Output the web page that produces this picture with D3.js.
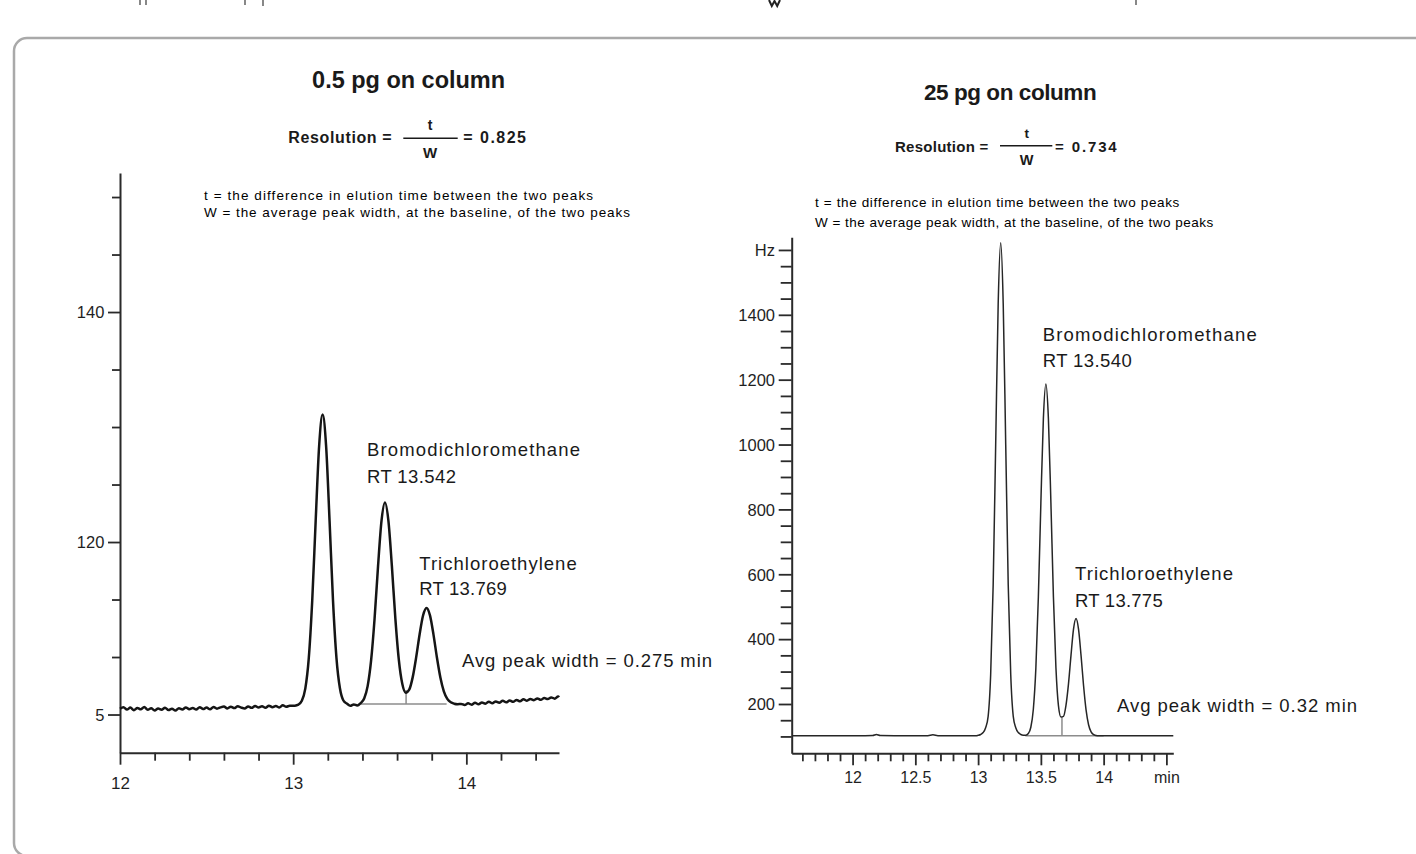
<!DOCTYPE html>
<html>
<head>
<meta charset="utf-8">
<script src="https://cdn.jsdelivr.net/npm/d3@7"></script>
<style>
  html, body { margin: 0; padding: 0; background: #fff; }
  svg { display: block; }
</style>
</head>
<body>
<script>
// ---------------- DATA ----------------
// Left chromatogram: 0.5 pg on column (time in min, signal)
const leftTime = [
  12.00,12.02,12.04,12.06,12.08,12.10,12.12,12.14,12.16,12.18,
  12.20,12.22,12.24,12.26,12.28,12.30,12.32,12.34,12.36,12.38,
  12.40,12.42,12.44,12.46,12.48,12.50,12.52,12.54,12.56,12.58,
  12.60,12.62,12.64,12.66,12.68,12.70,12.72,12.74,12.76,12.78,
  12.80,12.82,12.84,12.86,12.88,12.90,12.92,12.94,12.96,12.98,
  13.01,13.03,13.05,13.07,13.09,13.11,13.13,13.15,13.17,13.19,
  13.21,13.23,13.25,13.27,13.29,13.31,13.33,13.35,13.37,13.39,
  13.41,13.43,13.45,13.47,13.49,13.51,13.53,13.55,13.57,13.59,
  13.61,13.63,13.65,13.67,13.69,13.71,13.73,13.75,13.77,13.79,
  13.81,13.83,13.85,13.87,13.89,13.91,13.93,13.95,
  13.97,13.99,14.01,14.03,14.05,14.07,14.09,14.11,14.13,14.15,
  14.17,14.19,14.21,14.23,14.25,14.27,14.29,14.31,14.33,14.35,
  14.37,14.39,14.41,14.43,14.45,14.47,14.49,14.51,14.53,14.535
];
const leftSignal = [
  105.50,105.64,105.43,105.60,105.38,105.57,105.45,105.65,105.42,105.54,
  105.36,105.52,105.41,105.59,105.39,105.51,105.34,105.54,105.43,105.62,
  105.46,105.57,105.44,105.64,105.48,105.60,105.45,105.66,105.51,105.62,
  105.70,105.53,105.68,105.56,105.72,105.60,105.53,105.70,105.58,105.74,
  105.61,105.72,105.59,105.77,105.64,105.74,105.62,105.80,105.68,105.76,
  105.77,105.86,106.19,107.25,109.88,114.89,121.87,128.37,131.08,128.38,
  121.88,114.90,109.91,107.28,106.22,105.95,105.76,105.88,105.78,106.00,
  106.40,107.47,109.70,113.33,117.88,121.83,123.43,121.83,117.90,113.36,
  109.77,107.67,106.90,107.16,108.23,109.95,111.96,113.61,114.27,113.62,
  111.97,109.96,108.22,107.02,106.36,106.06,105.94,105.90,
  105.92,105.83,105.97,105.86,106.02,105.90,106.04,105.94,106.12,105.98,
  106.14,106.03,106.20,106.06,106.22,106.10,106.27,106.15,106.32,106.20,
  106.35,106.25,106.40,106.28,106.44,106.34,106.49,106.38,106.57,106.50
];
// Right chromatogram: 25 pg on column (time in min, Hz)
const rightTime = [
  11.52,11.70,11.90,12.10,12.16,12.19,12.22,12.40,12.60,12.64,12.68,12.85,12.98,
  13.00,13.02,13.04,13.06,13.08,13.10,13.12,13.14,13.16,13.18,
  13.20,13.22,13.24,13.26,13.28,13.30,13.32,13.34,13.36,13.38,
  13.40,13.42,13.44,13.46,13.48,13.50,13.52,13.54,13.56,13.58,
  13.60,13.62,13.64,13.66,13.68,13.70,13.72,13.74,13.76,13.78,
  13.80,13.82,13.84,13.86,13.88,13.90,13.92,13.94,13.96,13.98,
  14.00,14.20,14.40,14.555
];
const rightSignal = [
  102,102,102.3,102,102.5,106,102.5,102,102.3,105,102.3,102,102,
  103.5,106,112,127,162,290,567,1000,1435,1622,
  1435,1000,567,290,162,127,112,106,104,104,
  108.9,128.3,184,309.8,530.1,819.7,1080.5,1187,1080.5,819.7,
  530.3,312,195,160,162,196,262,350,431,464,
  431,350,257,182,136,114,105.5,103,102.2,102,
  102,102,102,102
];

// Baseline construction (valley-to-valley line and drop line)
const leftBaseSpan = [13.39, 13.886];
const leftBaseLevel = 105.91;
const leftDrop = [13.652, 107.13];
const rightBaseSpan = [13.376, 14.0];
const rightBaseLevel = 102;
const rightDrop = [13.668, 160];

// Tick values & labels
const leftXTicks = [12, 12.2, 12.4, 12.6, 12.8, 13, 13.2, 13.4, 13.6, 13.8, 14, 14.2, 14.4];
const leftXLabels = ["12", "", "", "", "", "13", "", "", "", "", "14", "", ""];
const leftYTicks = [105, 110, 115, 120, 125, 130, 135, 140, 145, 150];
const leftYLabels = ["5", "", "", "120", "", "", "", "140", "", ""];
const rightXTicks = [11.6, 11.7, 11.8, 11.9, 12, 12.1, 12.2, 12.3, 12.4, 12.5, 12.6, 12.7, 12.8, 12.9,
  13, 13.1, 13.2, 13.3, 13.4, 13.5, 13.6, 13.7, 13.8, 13.9, 14, 14.1, 14.2, 14.3, 14.4, 14.5];
const rightXLabels = ["", "", "", "", "12", "", "", "", "", "12.5", "", "", "", "",
  "13", "", "", "", "", "13.5", "", "", "", "", "14", "", "", "", "", "min"];
const rightYTicks = [100, 150, 200, 250, 300, 350, 400, 450, 500, 550, 600, 650, 700, 750, 800, 850,
  900, 950, 1000, 1050, 1100, 1150, 1200, 1250, 1300, 1350, 1400, 1450, 1500, 1550, 1600];
const rightYLabels = ["", "", "200", "", "", "", "400", "", "", "", "600", "", "", "", "800", "",
  "", "", "1000", "", "", "", "1200", "", "", "", "1400", "", "", "", "Hz"];

// Texts
const leftTitle = "0.5 pg on column";
const rightTitle = "25 pg on column";
const resolutionWord = "Resolution =";
const leftResolution = "= 0.825";
const rightResolution = "= 0.734";
const noteLines = [
  "t = the difference in elution time between the two peaks",
  "W = the average peak width, at the baseline, of the two peaks"
];
const leftPeakLabels = [["Bromodichloromethane", "RT 13.542"], ["Trichloroethylene", "RT 13.769"]];
const rightPeakLabels = [["Bromodichloromethane", "RT 13.540"], ["Trichloroethylene", "RT 13.775"]];
const leftWidthNote = "Avg peak width = 0.275 min";
const rightWidthNote = "Avg peak width = 0.32 min";

// ---------------- DRAWING ----------------
const W = 1416, H = 854;
const FONT = "'Liberation Sans', Arial, Helvetica, sans-serif";
const svg = d3.select("body").append("svg").attr("width", W).attr("height", H)
  .style("font-family", FONT);
svg.append("rect").attr("width", W).attr("height", H).attr("fill", "#fff");

// Frame (rounded panel border)
svg.append("path")
  .attr("d", "M1420,38 H27 A13,13 0 0 0 14,51 V843 A13,13 0 0 0 27,856 H1420")
  .attr("fill", "none").attr("stroke", "#a9a9a9").attr("stroke-width", 2.5);

// Remnants of content cut off at the very top edge
[[140, 5], [146, 5], [245, 5], [263, 6], [1136, 5]].forEach(([x, h]) => {
  svg.append("line").attr("x1", x).attr("x2", x).attr("y1", 0).attr("y2", h)
    .attr("stroke", "#555").attr("stroke-width", 1.4);
});
svg.append("path").attr("d", "M769,0 L771.8,6 L774.5,1 L777.2,6 L780,0")
  .attr("fill", "none").attr("stroke", "#222").attr("stroke-width", 2);

function txt(x, y, s, o = {}) {
  const t = svg.append("text").attr("x", x).attr("y", y).text(s)
    .attr("font-size", o.size || 16)
    .attr("font-weight", o.bold ? "bold" : "normal")
    .attr("fill", o.fill || "#1a1a1a")
    .attr("text-anchor", o.anchor || "start");
  if (o.len) t.attr("textLength", o.len).attr("lengthAdjust", o.adj || "spacing");
  return t;
}

function drawPanel(cfg) {
  const { x, y, time, signal } = cfg;
  const pts = time.map((t, i) => [t, signal[i]]);

  // Axes
  const gx = svg.append("g").attr("transform", `translate(0,${y.range()[0]})`)
    .call(d3.axisBottom(x).tickValues(cfg.xTicks)
      .tickFormat((d, i) => cfg.xLabels[i]).tickSizeInner(cfg.xMajor).tickSizeOuter(0));
  const gy = svg.append("g").attr("transform", `translate(${x.range()[0]},0)`)
    .call(d3.axisLeft(y).tickValues(cfg.yTicks)
      .tickFormat((d, i) => cfg.yLabels[i]).tickSizeInner(cfg.yMajor).tickSizeOuter(0));
  [gx, gy].forEach(g => {
    g.attr("font-family", FONT).attr("font-size", null);
    g.select(".domain").attr("stroke", "#2a2a2a").attr("stroke-width", 2);
    g.selectAll(".tick line").attr("stroke", "#2a2a2a").attr("stroke-width", 1.8);
    g.selectAll(".tick text").attr("fill", "#1f1f1f");
  });
  gx.selectAll(".tick line").attr("y2", (d, i) => cfg.xLabels[i] ? cfg.xMajor : cfg.xMinor);
  gx.selectAll(".tick text").attr("y", cfg.xLabelY).attr("dy", 0)
    .attr("font-size", cfg.xFont);
  gy.selectAll(".tick line").attr("x2", (d, i) => cfg.yLabels[i] ? -cfg.yMajor : -cfg.yMinor);
  gy.selectAll(".tick text").attr("x", cfg.yLabelX).attr("dy", "0.35em")
    .attr("font-size", cfg.yFont);

  // Baseline construction lines
  svg.append("line")
    .attr("x1", x(cfg.baseSpan[0])).attr("x2", x(cfg.baseSpan[1]))
    .attr("y1", y(cfg.baseLevel)).attr("y2", y(cfg.baseLevel))
    .attr("stroke", "#8c8c8c").attr("stroke-width", 1.5);
  svg.append("line")
    .attr("x1", x(cfg.drop[0])).attr("x2", x(cfg.drop[0]))
    .attr("y1", y(cfg.drop[1])).attr("y2", y(cfg.baseLevel))
    .attr("stroke", "#8c8c8c").attr("stroke-width", 1.5);

  // Trace
  svg.append("path").datum(pts)
    .attr("d", d3.line().x(d => x(d[0])).y(d => y(d[1])).curve(d3.curveMonotoneX))
    .attr("fill", "none").attr("stroke", cfg.traceColor)
    .attr("stroke-width", cfg.traceWidth).attr("stroke-linejoin", "round");
}

// Left panel
const xL = d3.scaleLinear().domain([12, 14.535]).range([120, 559]);
const yL = d3.scaleLinear().domain([101.68, 152.09]).range([752.7, 173]);
drawPanel({
  x: xL, y: yL, time: leftTime, signal: leftSignal,
  xTicks: leftXTicks, xLabels: leftXLabels, yTicks: leftYTicks, yLabels: leftYLabels,
  xMajor: 12, xMinor: 8, yMajor: 12, yMinor: 8,
  xLabelY: 36.3, xFont: 17, yLabelX: -15.7, yFont: 16.5,
  baseSpan: leftBaseSpan, baseLevel: leftBaseLevel, drop: leftDrop,
  traceColor: "#151515", traceWidth: 2.5
});

// Right panel
const xR = d3.scaleLinear().domain([11.515, 14.555]).range([791.7, 1173.3]);
const yR = d3.scaleLinear().domain([48, 1639]).range([753.3, 237.3]);
drawPanel({
  x: xR, y: yR, time: rightTime, signal: rightSignal,
  xTicks: rightXTicks, xLabels: rightXLabels, yTicks: rightYTicks, yLabels: rightYLabels,
  xMajor: 12, xMinor: 8, yMajor: 13, yMinor: 11,
  xLabelY: 29.4, xFont: 16, yLabelX: -16.7, yFont: 16.5,
  baseSpan: rightBaseSpan, baseLevel: rightBaseLevel, drop: rightDrop,
  traceColor: "#262626", traceWidth: 1.5
});

// ---- Left texts ----
txt(408.6, 88, leftTitle, { size: 23.5, bold: true, anchor: "middle", len: 193 });
txt(288.3, 143.3, resolutionWord, { size: 16, bold: true, len: 103.4 });
txt(430, 130, "t", { size: 14, bold: true, anchor: "middle" });
svg.append("line").attr("x1", 403.3).attr("x2", 457.7).attr("y1", 138.3).attr("y2", 138.3)
  .attr("stroke", "#1a1a1a").attr("stroke-width", 1.5);
txt(430, 158.3, "W", { size: 15, bold: true, anchor: "middle" });
txt(463.3, 143.3, leftResolution, { size: 16, bold: true, len: 62.7 });
txt(204, 200, noteLines[0], { size: 13.5, len: 389, fill: "#000" });
txt(204, 216.5, noteLines[1], { size: 13.5, len: 426, fill: "#000" });
txt(367, 456, leftPeakLabels[0][0], { size: 18.5, len: 213 });
txt(367, 482.7, leftPeakLabels[0][1], { size: 18.5, len: 89 });
txt(419.3, 570, leftPeakLabels[1][0], { size: 18.5, len: 157.4 });
txt(419.3, 595, leftPeakLabels[1][1], { size: 18.5, len: 87.4 });
txt(462, 667, leftWidthNote, { size: 18.5, len: 250 });

// ---- Right texts ----
txt(1010.3, 100, rightTitle, { size: 22.5, bold: true, anchor: "middle", len: 172.7 });
txt(895, 151.7, resolutionWord, { size: 15, bold: true, len: 93.3 });
txt(1026.7, 138.3, "t", { size: 13.5, bold: true, anchor: "middle" });
svg.append("line").attr("x1", 1000).attr("x2", 1052.3).attr("y1", 145.7).attr("y2", 145.7)
  .attr("stroke", "#1a1a1a").attr("stroke-width", 1.5);
txt(1026.7, 165, "W", { size: 14.5, bold: true, anchor: "middle" });
txt(1055, 151.7, rightResolution, { size: 15, bold: true, len: 61.7 });
txt(815, 207, noteLines[0], { size: 13.5, len: 364.3, fill: "#000" });
txt(815, 227, noteLines[1], { size: 13.5, len: 398.3, fill: "#000" });
txt(1042.7, 341, rightPeakLabels[0][0], { size: 18.5, len: 214 });
txt(1042.7, 366.7, rightPeakLabels[0][1], { size: 18.5, len: 89 });
txt(1075, 580, rightPeakLabels[1][0], { size: 18.5, len: 158 });
txt(1075, 607.3, rightPeakLabels[1][1], { size: 18.5, len: 87.7 });
txt(1117, 712, rightWidthNote, { size: 18.5, len: 240 });
</script>
</body>
</html>
